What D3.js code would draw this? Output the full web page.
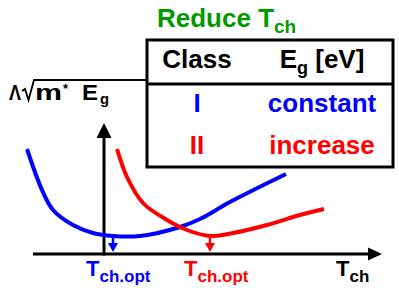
<!DOCTYPE html>
<html>
<head>
<meta charset="utf-8">
<script src="https://cdn.jsdelivr.net/npm/d3@7"></script>
<style>
  body { margin: 0; background: #fff; }
  svg { display: block; font-family: "Liberation Sans", Arial, sans-serif; font-weight: bold; }
</style>
</head>
<body>
<svg id="chart" width="399" height="296"></svg>
<script>
// curve samples (T_ch, Lambda*sqrt(m* Eg)) in arbitrary units
var blueT = [-0.6, 0.9, 2.0, 4.0, 6.0, 8.0, 10.7, 14.7, 16.7, 19.7, 25.3];
var blueY = [10.5, 6.4, 4.4, 2.9, 2.1, 1.8, 1.8, 2.7, 3.5, 5.2, 8.0];
var redT = [8.4, 9.4, 11.0, 13.4, 15.4, 17.7, 20.0, 23.4, 26.7, 29.1];
var redY = [10.5, 7.7, 5.1, 3.4, 2.4, 1.8, 2.1, 2.9, 3.9, 4.5];
var optT = [8.0, 17.7];
var optY = [1.8, 1.8];
var seriesColors = ["#0000ff", "#ff0000"];

var classes = ["I", "II"];
var egTrend = ["constant", "increase"];

var svg = d3.select("#chart");
var xScale = d3.scaleLinear().domain([0, 35]).range([33, 383]);
var yScale = d3.scaleLinear().domain([0, 13]).range([254, 124]);
var yAxisAt = 7.1;

var line = d3
  .line()
  .x(function (d) { return xScale(d[0]); })
  .y(function (d) { return yScale(d[1]); })
  .curve(d3.curveCatmullRom.alpha(0.5));

// axes
var x0 = xScale(0), y0 = yScale(0), ya = xScale(yAxisAt);
svg.append("line")
  .attr("x1", x0).attr("x2", 370).attr("y1", y0).attr("y2", y0)
  .attr("stroke", "#000").attr("stroke-width", 3);
svg.append("path")
  .attr("d", "M382," + y0 + "L368," + (y0 - 6.5) + "L368," + (y0 + 6.5) + "Z")
  .attr("fill", "#000");
svg.append("line")
  .attr("x1", ya).attr("x2", ya).attr("y1", y0 + 1.5).attr("y2", 136)
  .attr("stroke", "#000").attr("stroke-width", 3);
svg.append("path")
  .attr("d", "M" + ya + ",123L" + (ya - 7.5) + ",138L" + (ya + 7.5) + ",138Z")
  .attr("fill", "#000");

// curves
var curves = [d3.zip(blueT, blueY), d3.zip(redT, redY)];
svg.selectAll(".curve")
  .data(curves)
  .enter()
  .append("path")
  .attr("class", "curve")
  .attr("d", line)
  .attr("fill", "none")
  .attr("stroke", function (d, i) { return seriesColors[i]; })
  .attr("stroke-width", 4);

// optimum arrows
optT.forEach(function (t, i) {
  var x = xScale(t), yTop = yScale(optY[i]);
  svg.append("line")
    .attr("x1", x).attr("x2", x).attr("y1", yTop).attr("y2", y0 - 9)
    .attr("stroke", seriesColors[i]).attr("stroke-width", 2.5);
  svg.append("path")
    .attr("d", "M" + x + "," + (y0 - 2) + "L" + (x - 5) + "," + (y0 - 11) + "L" + (x + 5) + "," + (y0 - 11) + "Z")
    .attr("fill", seriesColors[i]);
});

// axis labels
function subLabel(x, y, main, sub, color, size, subSize, shift) {
  var t = svg.append("text").attr("x", x).attr("y", y).attr("fill", color)
    .style("font-size", size + "px");
  t.append("tspan").text(main);
  t.append("tspan").attr("dy", shift).style("font-size", subSize + "px").text(sub);
  return t;
}
subLabel(xScale(optT[0]) - 27, 276, "T", "ch.opt", seriesColors[0], 22, 17, 6);
subLabel(xScale(optT[1]) - 26, 276, "T", "ch.opt", seriesColors[1], 22, 17, 6);
subLabel(336, 276, "T", "ch", "#000", 22, 17, 6);

// y label: Lambda sqrt(m* Eg), glyphs a bit stretched like the original
function word(x, y, s, size, len) {
  var t = svg.append("text").attr("x", x).attr("y", y).attr("fill", "#000")
    .style("font-size", size + "px").text(s);
  if (len) t.attr("textLength", len).attr("lengthAdjust", "spacingAndGlyphs");
  return t;
}
word(9, 100, "\u039b", 22, 12);
word(35, 100, "m", 22, 27);
word(63, 93, "*", 13);
word(82, 100, "E", 22, 16);
word(100, 104, "g", 15, 9);
svg.append("path")
  .attr("d", "M22,91L25,89L28.5,100L34,80L146,80")
  .attr("fill", "none").attr("stroke", "#000").attr("stroke-width", 1.8)
  .attr("stroke-linejoin", "miter");

// title
var title = svg.append("text").attr("x", 157).attr("y", 27).attr("fill", "#009a00").style("font-size", "26px");
title.append("tspan").text("Reduce T");
title.append("tspan").attr("dy", 6).style("font-size", "19px").text("ch");

// table
svg.append("rect")
  .attr("x", 147).attr("y", 40).attr("width", 246).attr("height", 127)
  .attr("fill", "none").attr("stroke", "#000").attr("stroke-width", 3);
svg.append("line")
  .attr("x1", 147).attr("x2", 393).attr("y1", 84).attr("y2", 84)
  .attr("stroke", "#000").attr("stroke-width", 3);

var col1 = 197, col2 = 322;
svg.append("text").attr("x", col1).attr("y", 68).attr("text-anchor", "middle")
  .style("font-size", "26px").text("Class");
var eh = svg.append("text").attr("x", col2).attr("y", 68).attr("text-anchor", "middle")
  .style("font-size", "26px");
eh.append("tspan").text("E");
eh.append("tspan").attr("dy", 6).style("font-size", "18px").text("g");
eh.append("tspan").attr("dy", -6).text(" [eV]");

var rowY = [112, 154];
classes.forEach(function (c, i) {
  svg.append("text").attr("x", col1).attr("y", rowY[i]).attr("text-anchor", "middle")
    .attr("fill", seriesColors[i]).style("font-size", "26px").text(c);
  svg.append("text").attr("x", col2).attr("y", rowY[i]).attr("text-anchor", "middle")
    .attr("fill", seriesColors[i]).style("font-size", "26px").text(egTrend[i]);
});
</script>
</body>
</html>
